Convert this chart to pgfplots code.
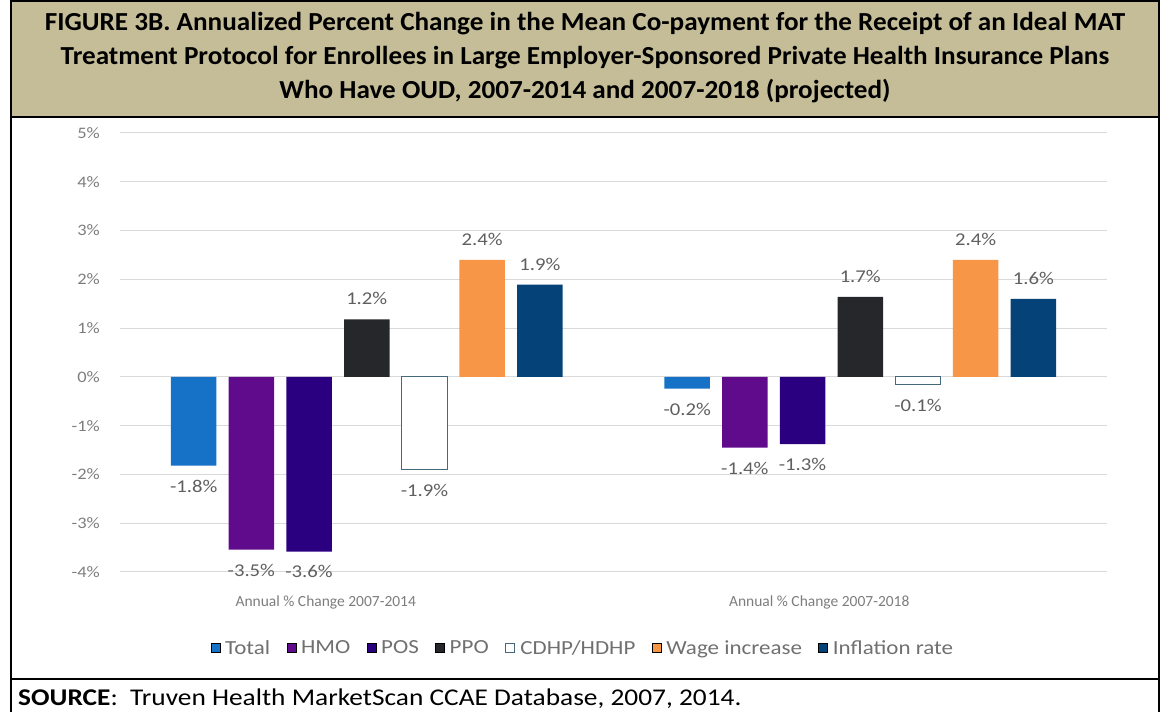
\documentclass[border=0pt]{standalone}
\usepackage{fontspec}
\setmainfont{Carlito}[FakeStretch=1.15]
\newfontfamily\docfont{Carlito}
\newfontfamily\titlefont{Carlito}[FakeStretch=1.045]
\newfontfamily\srcfont{Carlito}[FakeStretch=1.14]
\usepackage{pgfplots}
\pgfplotsset{compat=1.18}
\definecolor{cTotal}{RGB}{22,114,198}
\definecolor{cHMO}{RGB}{96,10,140}
\definecolor{cPOS}{RGB}{42,0,128}
\definecolor{cPPO}{RGB}{38,39,42}
\definecolor{cCDHP}{RGB}{68,105,125}
\definecolor{cWage}{RGB}{247,150,70}
\definecolor{cInfl}{RGB}{5,66,120}
\definecolor{tanbox}{RGB}{196,189,151}
\definecolor{txtgray}{RGB}{95,95,95}
\definecolor{tickgray}{RGB}{125,125,125}
\definecolor{leggray}{RGB}{112,112,112}
\definecolor{gridgray}{RGB}{217,217,217}
\pgfplotsset{ybar legend/.style={legend image code/.code={\draw[##1] (0pt,-4.5pt) rectangle (9pt,4.5pt);}}}
\begin{document}
\begin{tikzpicture}[x=1pt,y=1pt]
\useasboundingbox (0,0) rectangle (1163,712);
% title box
\fill[tanbox] (11,595) rectangle (1159,712);
\begin{axis}[
  at={(120pt,140pt)}, anchor=south west,
  scale only axis, width=987pt, height=439pt,
  xmin=-0.5, xmax=1.5, ymin=-4, ymax=5,
  ybar, bar width=0.0922,
  clip=false,
  axis line style={draw=none},
  major tick length=0pt,
  ymajorgrids, grid style={gridgray, line width=1pt},
  ytick={-4,-3,-2,-1,0,1,2,3,4,5},
  yticklabels={-4\%,-3\%,-2\%,-1\%,0\%,1\%,2\%,3\%,4\%,5\%},
  yticklabel style={font=\fontsize{16}{18}\selectfont, text=tickgray, inner xsep=0pt, xshift=-20pt},
  xtick={0,1},
  xticklabels={Annual \% Change 2007-2014, Annual \% Change 2007-2018},
  xticklabel style={font=\docfont\fontsize{15.5}{17}\selectfont, text=tickgray, inner ysep=0pt, yshift=-24pt, xshift=-41pt},
  point meta=explicit symbolic,
  nodes near coords,
  every node near coord/.append style={font=\fontsize{18}{20}\selectfont, text=txtgray, inner ysep=14pt, anchor=south},
  legend columns=7,
  legend style={at={(0.469,-0.173)}, anchor=center, draw=none, fill=none,
    font=\fontsize{20}{22}\selectfont, text=leggray,
    /tikz/every odd column/.append style={column sep=3pt},
    /tikz/every even column/.append style={column sep=14.5pt}},
]
\addplot[fill=cTotal, draw=none, bar shift=-0.3507, every node near coord/.append style={anchor=north}] coordinates {(0,-1.82) [-1.8\%] (1,-0.24) [-0.2\%]};
\addplot[fill=cHMO, draw=none, bar shift=-0.2338, every node near coord/.append style={anchor=north}] coordinates {(0,-3.54) [-3.5\%] (1,-1.45) [-1.4\%]};
\addplot[fill=cPOS, draw=none, bar shift=-0.1169, every node near coord/.append style={anchor=north}] coordinates {(0,-3.58) [-3.6\%] (1,-1.38) [-1.3\%]};
\addplot[fill=cPPO, draw=none, bar shift=0] coordinates {(0,1.18) [1.2\%] (1,1.64) [1.7\%]};
\addplot[fill=white, draw=cCDHP, line width=1.2pt, bar shift=0.1169, every node near coord/.append style={anchor=north}] coordinates {(0,-1.90) [-1.9\%] (1,-0.15) [-0.1\%]};
\addplot[fill=cWage, draw=none, bar shift=0.2338] coordinates {(0,2.40) [2.4\%] (1,2.40) [2.4\%]};
\addplot[fill=cInfl, draw=none, bar shift=0.3507] coordinates {(0,1.89) [1.9\%] (1,1.60) [1.6\%]};
\legend{Total,HMO,POS,PPO,CDHP/HDHP,Wage increase,Inflation rate}
\end{axis}
% frame
\draw[line width=2.6pt] (11,0) -- (11,712);
\draw[line width=2.6pt] (1159,0) -- (1159,712);
\draw[line width=2.6pt] (11,711) -- (1159,711);
\draw[line width=2.6pt] (11,595) -- (1159,595);
\draw[line width=2.6pt] (11,33) -- (1159,33);
% title
\node[anchor=base, font=\titlefont\bfseries\fontsize{26}{28}\selectfont] at (585,681) {FIGURE 3B. Annualized Percent Change in the Mean Co-payment for the Receipt of an Ideal MAT};
\node[anchor=base, font=\titlefont\bfseries\fontsize{26}{28}\selectfont] at (585,647) {Treatment Protocol for Enrollees in Large Employer-Sponsored Private Health Insurance Plans};
\node[anchor=base, font=\titlefont\bfseries\fontsize{26}{28}\selectfont] at (585,613) {Who Have OUD, 2007-2014 and 2007-2018 (projected)};
% source
\node[anchor=base west, inner sep=0pt, font=\srcfont\fontsize{24}{26}\selectfont] at (18,6) {\textbf{SOURCE}:\ \ Truven Health MarketScan CCAE Database, 2007, 2014.};
\end{tikzpicture}
\end{document}
